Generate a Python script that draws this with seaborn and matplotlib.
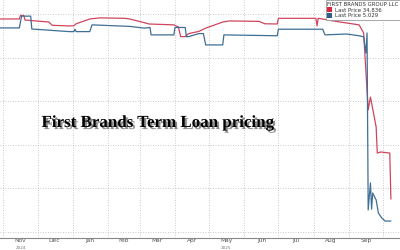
import matplotlib
matplotlib.use("Agg")
import matplotlib.pyplot as plt
import matplotlib.dates as mdates
import matplotlib.patheffects as pe
from matplotlib.patches import Patch
import seaborn as sns
import pandas as pd

# ---- data ----
red_dates = ["2024-10-29", "2024-11-15", "2024-11-16", "2024-11-19", "2024-11-20", "2024-12-11",
             "2024-12-14", "2024-12-29", "2025-01-02", "2025-01-04", "2025-01-16", "2025-01-25",
             "2025-02-16", "2025-02-20", "2025-03-05", "2025-03-09", "2025-03-31", "2025-04-04",
             "2025-04-06", "2025-04-10", "2025-04-13", "2025-04-22", "2025-04-28", "2025-05-13",
             "2025-05-19", "2025-06-14", "2025-06-19", "2025-06-30", "2025-07-01", "2025-08-03",
             "2025-08-04", "2025-08-05", "2025-08-11", "2025-08-18", "2025-09-10", "2025-09-14",
             "2025-09-18", "2025-09-20", "2025-09-21", "2025-09-25", "2025-09-26", "2025-09-29",
             "2025-10-07", "2025-10-08"]
red_values = [97.7, 97.7, 99.3, 99.3, 97.2, 96.3,
              94.8, 94.5, 94.6, 95.5, 97.7, 98.2,
              98.0, 97.7, 96.0, 95.4, 95.0, 94.0,
              89.6, 89.6, 91.0, 92.0, 93.5, 96.3,
              96.8, 96.6, 95.5, 95.4, 98.0, 98.0,
              94.5, 98.0, 97.5, 96.8, 95.0, 91.3,
              56.0, 61.9, 59.2, 48.2, 36.2, 36.7,
              36.2, 15.1]

blue_dates = ["2024-10-29", "2024-11-15", "2024-11-17", "2024-11-25", "2024-11-26", "2024-12-29",
              "2025-01-02", "2025-01-03", "2025-01-04", "2025-01-16", "2025-01-18", "2025-02-20",
              "2025-03-05", "2025-03-10", "2025-03-11", "2025-03-31", "2025-04-01", "2025-04-10",
              "2025-04-11", "2025-04-13", "2025-04-22", "2025-04-26", "2025-04-28", "2025-05-13",
              "2025-05-14", "2025-06-30", "2025-07-01", "2025-08-09", "2025-08-11", "2025-08-30",
              "2025-09-10", "2025-09-14", "2025-09-16", "2025-09-17", "2025-09-18", "2025-09-20",
              "2025-09-21", "2025-09-22", "2025-09-25", "2025-09-27", "2025-09-30", "2025-10-03",
              "2025-10-08"]
blue_values = [93.6, 93.6, 99.0, 99.0, 93.1, 91.9,
               91.9, 93.0, 91.9, 91.9, 95.0, 94.3,
               93.5, 93.8, 90.4, 90.4, 93.8, 93.8,
               89.6, 89.6, 91.0, 91.0, 85.8, 85.8,
               90.4, 90.0, 93.0, 93.0, 90.4, 90.8,
               90.0, 89.5, 82.1, 91.3, 10.1, 22.5,
               10.5, 17.9, 14.7, 8.7, 6.4, 5.0,
               5.03]

month_labels = ["Nov", "Dec", "Jan", "Feb", "Mar", "Apr", "May", "Jun", "Jul", "Aug", "Sep"]
year_labels = {"2024": "2024-11-16", "2025": "2025-05-16"}
legend_title = "FIRST BRANDS GROUP LLC"
red_label = "Last Price 34.836"
blue_label = "Last Price 5.029"
chart_text = "First Brands Term Loan pricing"

RED = "#d0455e"
BLUE = "#3f6e96"

df = pd.concat([
    pd.DataFrame({"date": pd.to_datetime(red_dates), "value": red_values, "series": "red"}),
    pd.DataFrame({"date": pd.to_datetime(blue_dates), "value": blue_values, "series": "blue"}),
])

sns.set_style("white")
plt.rcParams["font.family"] = ["DejaVu Sans"]

fig = plt.figure(figsize=(4.0, 2.5), dpi=100)
ax = fig.add_axes([0.0, 12 / 250, 1.0, 238 / 250])

sns.lineplot(data=df, x="date", y="value", hue="series", palette={"red": RED, "blue": BLUE},
             hue_order=["red", "blue"], linewidth=0.9, ax=ax, legend=False)

ax.set_xlim(pd.Timestamp("2024-10-29"), pd.Timestamp("2025-10-16"))
ax.set_ylim(-2.75, 106.4)
ax.set_xlabel("")
ax.set_ylabel("")

# grid
ax.set_yticks([0, 20, 40, 60, 80, 100])
ax.set_yticklabels([])
ax.tick_params(axis="y", length=0)
ax.xaxis.set_major_locator(mdates.MonthLocator())
ax.xaxis.set_major_formatter(plt.NullFormatter())
month_centers = pd.to_datetime(["2024-11-16", "2024-12-16", "2025-01-16", "2025-02-15", "2025-03-16",
                                "2025-04-16", "2025-05-16", "2025-06-16", "2025-07-16", "2025-08-16",
                                "2025-09-16"])
ax.set_xticks(mdates.date2num(month_centers), minor=True)
ax.set_xticklabels(month_labels, minor=True)
ax.tick_params(axis="x", which="major", length=4, width=0.6, color="#888888", direction="out")
ax.tick_params(axis="x", which="minor", length=0, labelsize=4.2, labelcolor="#555555", pad=0.3)
ax.grid(True, which="major", axis="both", linestyle=(0, (1, 2)), linewidth=0.6, color="#b8b8b8")

for s in ["top", "right", "left"]:
    ax.spines[s].set_visible(False)
ax.spines["bottom"].set_color("#888888")
ax.spines["bottom"].set_linewidth(0.8)

for txt, d in year_labels.items():
    ax.text(mdates.date2num(pd.Timestamp(d)), -12 / 238, txt, transform=ax.get_xaxis_transform(),
            ha="center", va="bottom", fontsize=3.0, color="#777777", clip_on=False)

# legend
handles = [Patch(facecolor="#d9253f", edgecolor="none", label=red_label),
           Patch(facecolor="#2e5f8a", edgecolor="none", label=blue_label)]
leg = ax.legend(handles=handles, title=legend_title, loc="upper right", bbox_to_anchor=(1.0, 1.0),
                borderaxespad=0, fontsize=3.9, title_fontsize=3.9, handlelength=0.9, handleheight=0.9,
                handletextpad=0.5, labelspacing=0.15, borderpad=0.3, frameon=True, fancybox=False,
                framealpha=1, alignment="left")
leg.get_frame().set_edgecolor("#9a9a9a")
leg.get_frame().set_linewidth(0.6)
for t in leg.get_texts():
    t.set_color("#333333")
leg.get_title().set_color("#333333")

# overlay text
fig.text(41.5 / 400, 1 - 123 / 250, chart_text, ha="left", va="center",
         fontsize=12.2, fontweight="bold", family=["Liberation Serif", "DejaVu Serif"], color="black",
         path_effects=[pe.withSimplePatchShadow(offset=(1.5, -1.5), shadow_rgbFace="black", alpha=0.45)])

fig.savefig("out.png", dpi=100)
